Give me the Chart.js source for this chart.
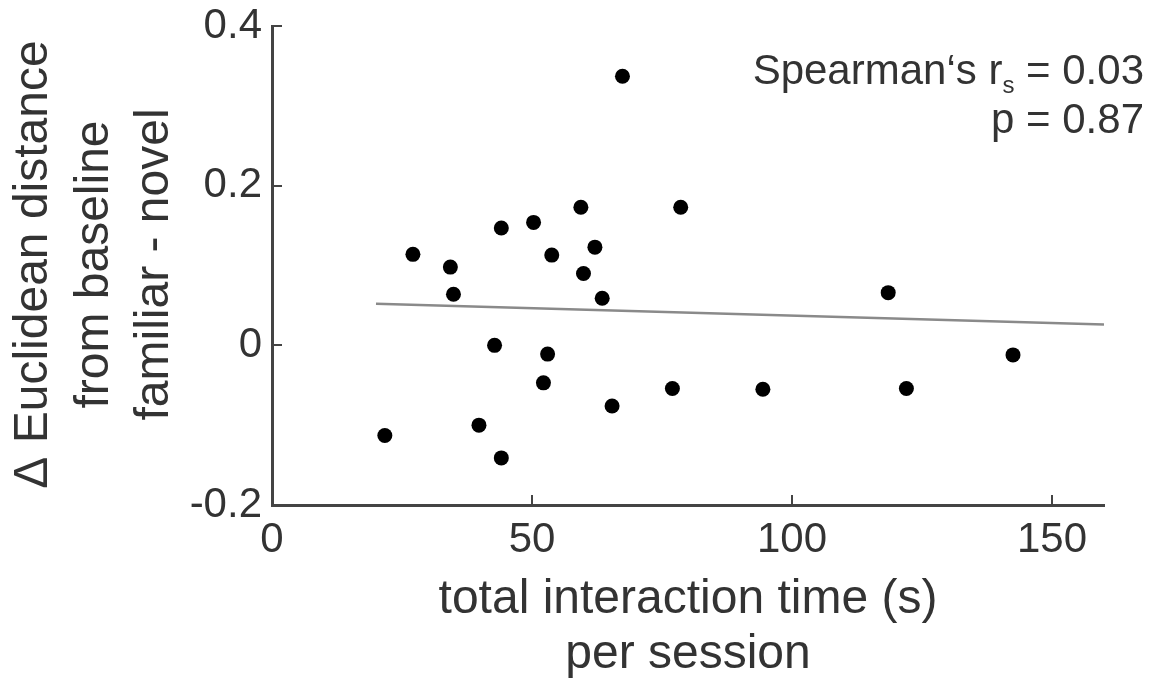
<!DOCTYPE html>
<html>
<head>
<meta charset="utf-8">
<script src="https://cdn.jsdelivr.net/npm/chart.js@4/dist/chart.umd.min.js"></script>
<style>
  html, body { margin: 0; padding: 0; background: #ffffff; }
  #wrap { width: 1152px; height: 679px; }
</style>
</head>
<body>
<div id="wrap"><canvas id="c" width="1152" height="679"></canvas></div>
<script>
// ---- data ----
const timeSec = [67.4, 59.4, 78.6, 44.1, 50.3, 27.1, 34.3, 53.8, 62.1, 59.9, 34.9, 63.5,
                 42.8, 53.0, 52.2, 77.0, 65.4, 39.8, 21.7, 44.1, 118.5, 142.5, 94.4, 122.0];
const deltaDist = [0.337, 0.173, 0.173, 0.147, 0.154, 0.114, 0.098, 0.113, 0.123, 0.090, 0.064, 0.059,
                   0.000, -0.011, -0.047, -0.054, -0.076, -0.100, -0.113, -0.141, 0.066, -0.012, -0.055, -0.054];
const fitX = [20, 160];
const fitY = [0.052, 0.026];
const xTicks = [0, 50, 100, 150];
const yTicks = [-0.2, 0, 0.2, 0.4];
const yTickLabels = ['-0.2', '0', '0.2', '0.4'];
const xTitleLines = ['total interaction time (s)', 'per session'];
const yTitleLines = ['\u0394 Euclidean distance', 'from baseline', 'familiar - novel'];
const statText = { rLabel: 'Spearman\u2018s r', rSub: 's', rValue: ' = 0.03', pLine: 'p = 0.87' };

const FONT = '"Liberation Sans", Arial, Helvetica, sans-serif';
const TEXT = '#333333';
const AXIS = '#444444';

const points = timeSec.map((x, i) => ({ x: x, y: deltaDist[i] }));
const fitLine = fitX.map((x, i) => ({ x: x, y: fitY[i] }));

const decorPlugin = {
  id: 'decor',
  afterDatasetsDraw(chart) {
    const ctx = chart.ctx;
    const xs = chart.scales.x, ys = chart.scales.y;
    const area = chart.chartArea;
    ctx.save();
    // inward tick marks
    ctx.strokeStyle = AXIS;
    ctx.lineWidth = 2;
    xTicks.forEach(v => {
      if (v === 0) return;
      const px = Math.round(xs.getPixelForValue(v));
      ctx.beginPath();
      ctx.moveTo(px, area.bottom);
      ctx.lineTo(px, area.bottom - 10);
      ctx.stroke();
    });
    yTicks.forEach(v => {
      if (v === -0.2) return;
      const py = Math.round(ys.getPixelForValue(v));
      ctx.beginPath();
      ctx.moveTo(area.left, py);
      ctx.lineTo(area.left + 10, py);
      ctx.stroke();
    });
    ctx.restore();
  },
  afterDraw(chart) {
    const ctx = chart.ctx;
    const area = chart.chartArea;
    ctx.save();
    ctx.fillStyle = TEXT;
    // x title
    ctx.font = '48px ' + FONT;
    ctx.textAlign = 'center';
    ctx.textBaseline = 'alphabetic';
    const cx = (area.left + area.right) / 2;
    ctx.fillText(xTitleLines[0], cx, 613);
    ctx.fillText(xTitleLines[1], cx, 668);
    // y title (rotated)
    const cy = (area.top + area.bottom) / 2 - 1;
    const ybase = [47, 108, 168];
    ctx.font = '48px ' + FONT;
    yTitleLines.forEach((t, i) => {
      ctx.save();
      ctx.translate(ybase[i], cy);
      ctx.rotate(-Math.PI / 2);
      ctx.textAlign = 'center';
      ctx.fillText(t, 0, 0);
      ctx.restore();
    });
    // statistics annotation
    const right = 1144;
    ctx.textAlign = 'left';
    const bigF = '42px ' + FONT, smallF = '24px ' + FONT;
    ctx.font = bigF;
    const wVal = ctx.measureText(statText.rValue).width;
    const wLab = ctx.measureText(statText.rLabel).width;
    ctx.font = smallF;
    const wSub = ctx.measureText(statText.rSub).width;
    let x0 = right - wVal - wSub - wLab;
    ctx.font = bigF;
    ctx.fillText(statText.rLabel, x0, 84);
    ctx.font = smallF;
    ctx.fillText(statText.rSub, x0 + wLab, 93);
    ctx.font = bigF;
    ctx.fillText(statText.rValue, x0 + wLab + wSub, 84);
    ctx.textAlign = 'right';
    ctx.fillText(statText.pLine, right, 133);
    ctx.restore();
  }
};

new Chart(document.getElementById('c'), {
  type: 'scatter',
  data: {
    datasets: [
      {
        type: 'scatter',
        data: points,
        backgroundColor: '#000000',
        borderWidth: 0,
        pointRadius: 7.5,
        pointHoverRadius: 7.5,
        order: 1
      },
      {
        type: 'line',
        data: fitLine,
        borderColor: '#8a8a8a',
        borderWidth: 2.5,
        pointRadius: 0,
        fill: false,
        tension: 0,
        order: 2
      }
    ]
  },
  options: {
    responsive: false,
    animation: false,
    devicePixelRatio: 1,
    layout: { padding: { top: 26, right: 48, left: 0, bottom: 0 } },
    plugins: { legend: { display: false }, tooltip: { enabled: false } },
    scales: {
      x: {
        type: 'linear',
        min: 0, max: 160,
        grid: { display: false, drawTicks: false },
        border: { display: true, color: AXIS, width: 3 },
        afterBuildTicks: s => { s.ticks = xTicks.map(v => ({ value: v })); },
        afterFit: s => { s.height = 174; s.paddingLeft = 0; s.paddingRight = 0; },
        ticks: {
          color: TEXT,
          padding: 10,
          maxRotation: 0,
          font: { family: FONT, size: 42 },
          callback: v => String(v)
        }
      },
      y: {
        type: 'linear',
        min: -0.2, max: 0.4,
        grid: { display: false, drawTicks: false },
        border: { display: true, color: AXIS, width: 3 },
        afterBuildTicks: s => { s.ticks = yTicks.map(v => ({ value: v })); },
        afterFit: s => { s.width = 272; s.paddingTop = 0; s.paddingBottom = 0; },
        ticks: {
          color: TEXT,
          padding: 10,
          font: { family: FONT, size: 42 },
          callback: v => yTickLabels[yTicks.findIndex(t => Math.abs(t - v) < 1e-9)]
        }
      }
    }
  },
  plugins: [decorPlugin]
});
</script>
</body>
</html>
